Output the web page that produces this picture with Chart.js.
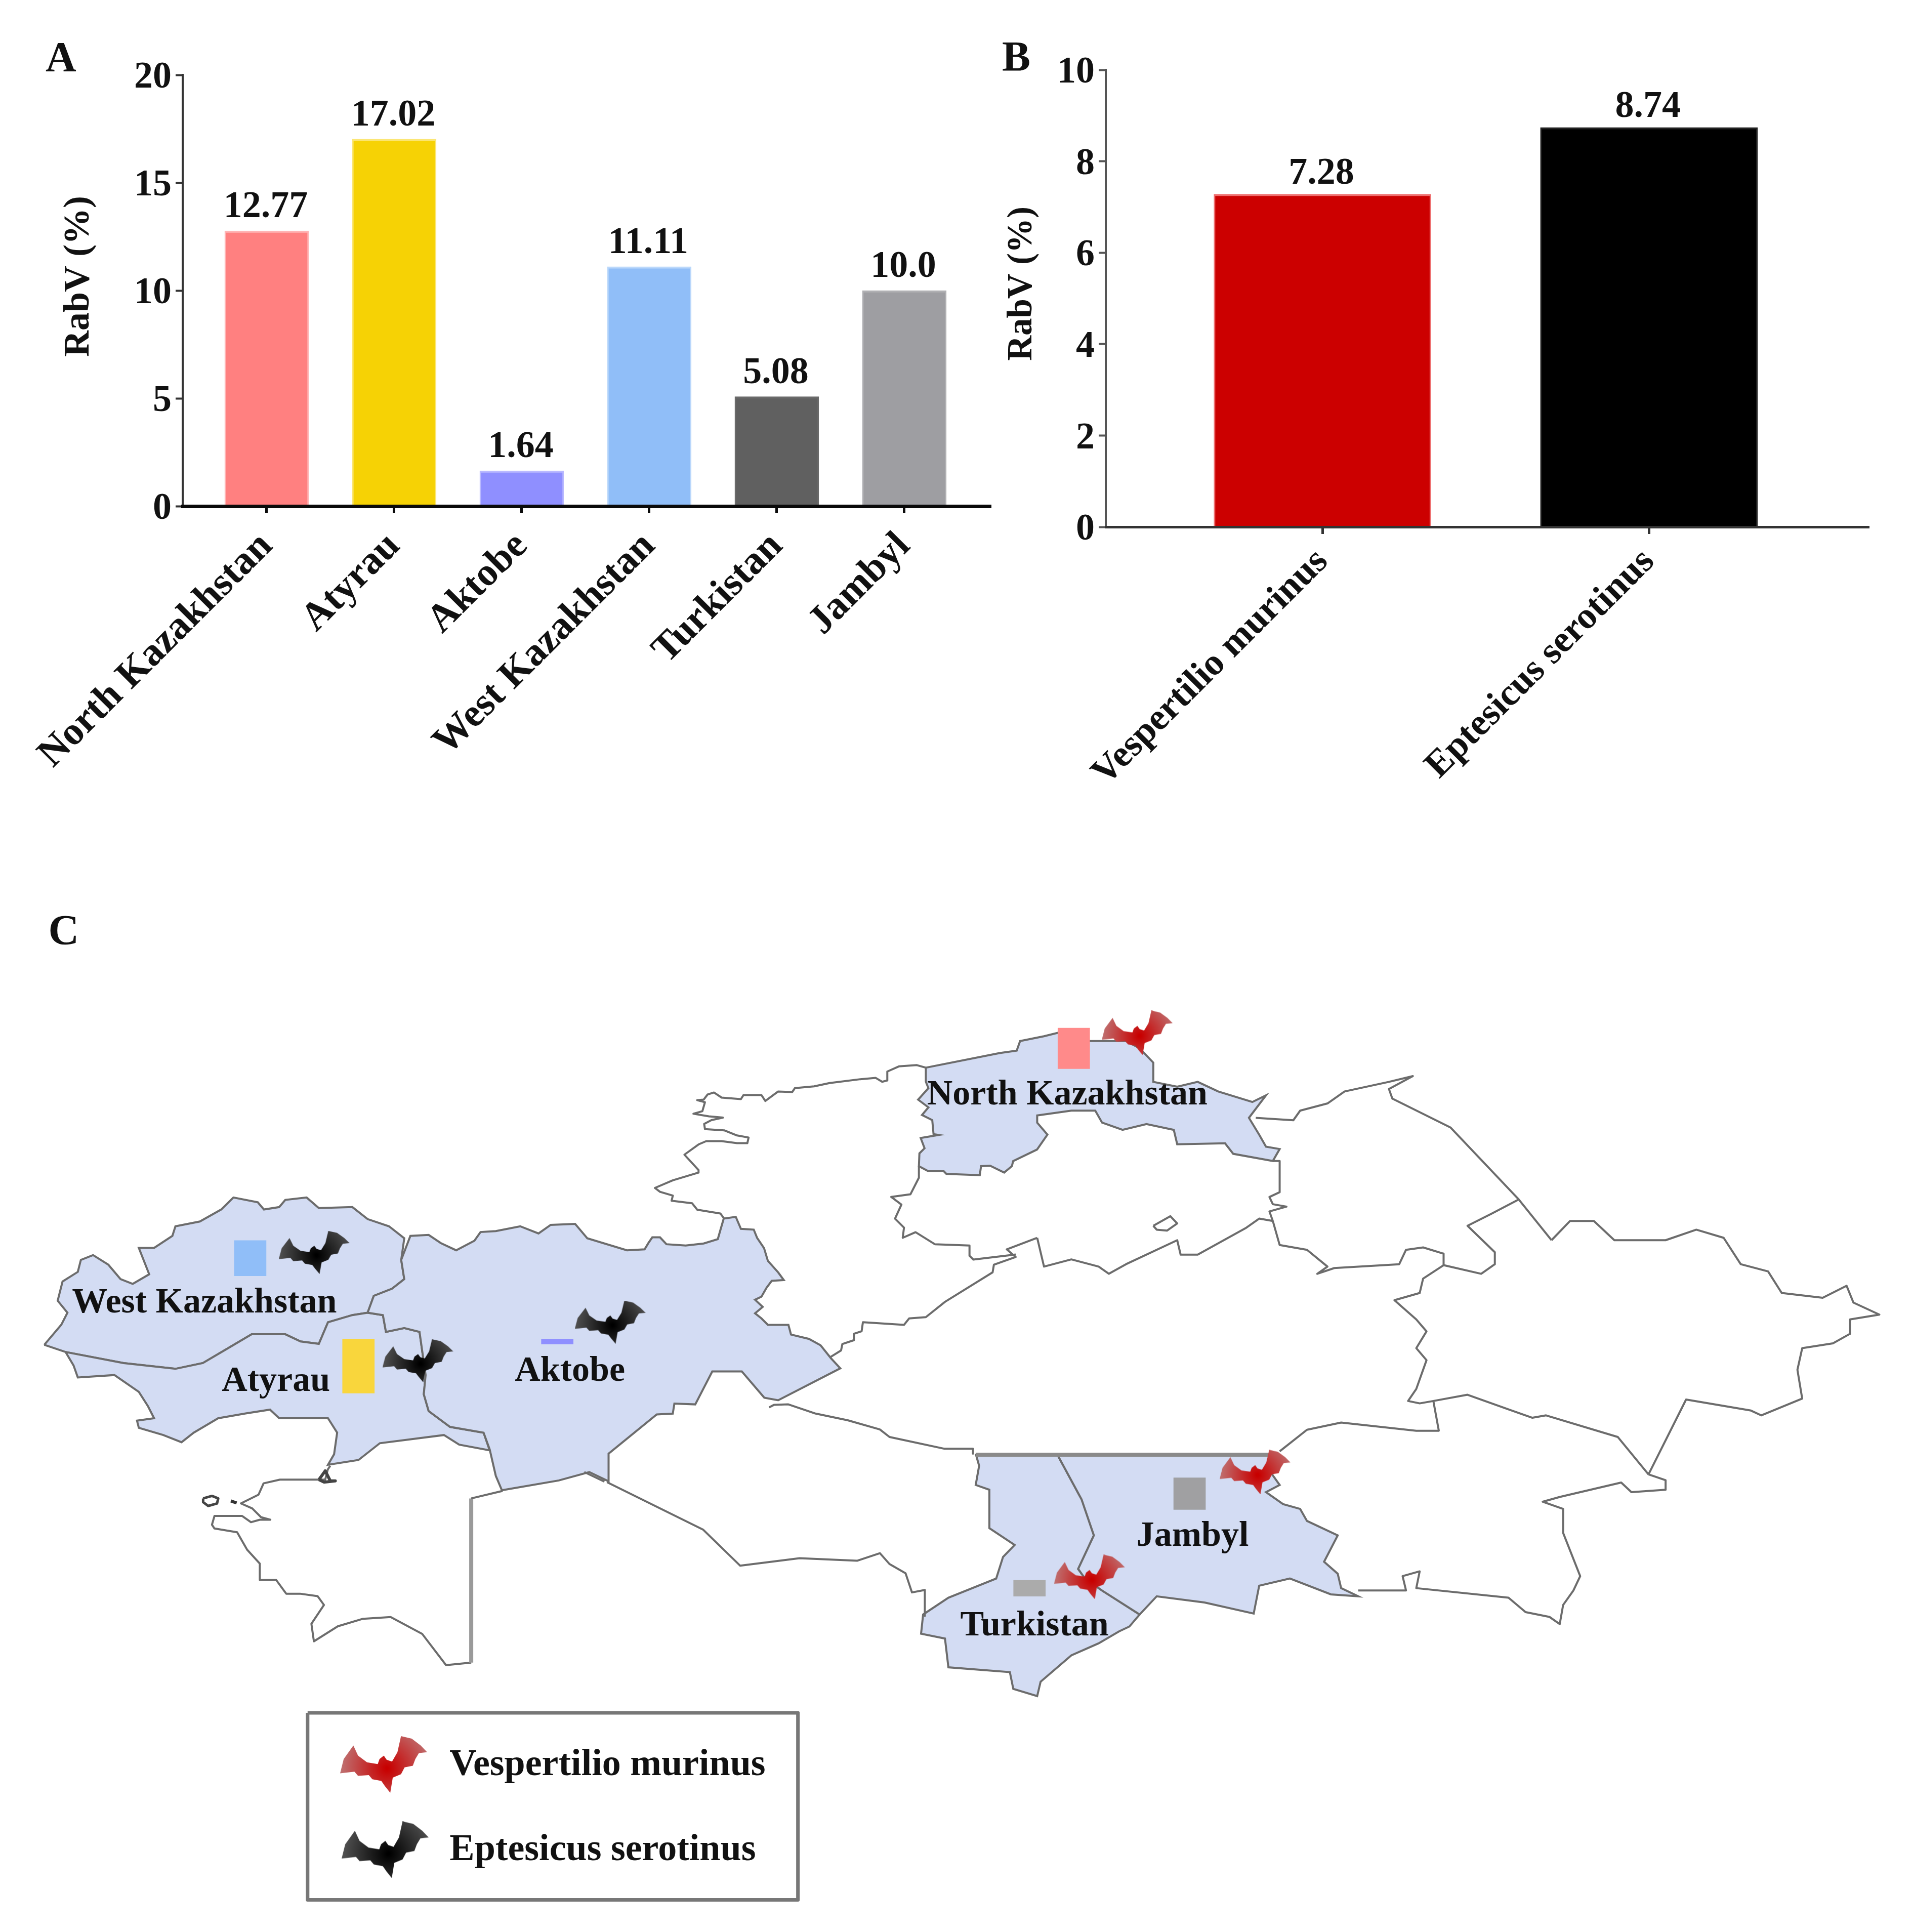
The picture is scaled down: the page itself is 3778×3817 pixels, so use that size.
<!DOCTYPE html>
<html><head><meta charset="utf-8">
<style>html,body{margin:0;padding:0;background:#fff}body{position:relative;width:3778px;height:3817px;overflow:hidden}canvas{position:absolute}</style>
<script src="https://cdn.jsdelivr.net/npm/chart.js@4"></script>
</head><body>
<canvas id="a" width="1960" height="1640" style="left:0;top:0"></canvas>
<canvas id="b" width="1818" height="1640" style="left:1960px;top:0"></canvas>
<canvas id="c" width="3778" height="2167" style="left:0;top:1650px"></canvas>
<script>
// ---------- chart data ----------
const regions=["North Kazakhstan","Atyrau","Aktobe","West Kazakhstan","Turkistan","Jambyl"];
const regionValues=[12.77,17.02,1.64,11.11,5.08,10.0];
const regionLabels=["12.77","17.02","1.64","11.11","5.08","10.0"];
const regionColors=["#FF8080","#F6D205","#8F8FFF","#90BEF8","#606060","#9E9EA2"];
const regionEdges=["#FFB4B4","#FBE675","#B9B9FF","#BBD8FB","#6A6A6A","#B0B0B3"];
const species=["Vespertilio murinus","Eptesicus serotinus"];
const speciesValues=[7.28,8.74];
const speciesLabels=["7.28","8.74"];
const speciesColors=["#CC0000","#000000"];
const speciesEdges=["#EE7070","#222222"];

// ---------- map outlines, traced in the units of five reading frames ----------
const westK_L=[[70,947],[98,905],[108,880],[92,855],[100,815],[125,795],[130,770],[150,760],[175,780],[195,810],[215,820],[242,800],[225,745],[250,745],[280,720],[285,700],[325,690],[360,665],[380,640],[420,650],[430,665],[455,660],[465,645],[500,640],[520,662],[575,660],[600,685],[635,700],[660,725],[655,770],[660,810],[640,830],[610,845],[600,880],[575,885],[535,900],[520,945],[490,940],[465,925],[410,925],[370,955],[330,985],[285,997],[200,985],[105,962]];
const atyrau_L=[[105,962],[118,990],[125,1015],[185,1010],[225,1045],[240,1075],[250,1100],[222,1105],[225,1120],[265,1135],[295,1150],[315,1130],[355,1100],[400,1090],[440,1082],[455,1100],[505,1100],[535,1100],[550,1130],[545,1175],[535,1197],[585,1187],[620,1152],[725,1135],[750,1155],[800,1167],[790,1130],[735,1118],[700,1085],[692,1050],[695,1010],[685,920],[660,912],[630,920],[625,885],[600,880],[575,885],[535,900],[520,945],[490,940],[465,925],[410,925],[370,955],[330,985],[285,997],[200,985]];
const aktobeNorth_L=[[600,880],[610,845],[640,830],[660,810],[655,770],[670,720],[700,718],[720,735],[745,750],[775,730],[785,712],[810,710],[850,700],[880,715],[900,697],[940,695],[960,725],[1025,750]];
const aktobeEast_N=[[40,815],[55,790],[70,768],[100,768],[125,795],[200,800],[270,792],[325,775],[335,740],[348,695],[395,688],[415,735],[465,738],[478,770],[505,810],[520,860],[560,905],[582,935],[535,938],[515,965],[495,1000],[470,1012],[500,1040],[470,1065],[495,1085],[520,1110],[600,1110],[610,1148],[680,1165],[725,1190],[765,1240],[802,1280],[560,1405]];
const aktobeSouth_K=[[640,185],[570,28],[478,28],[425,225],[360,220],[355,280],[305,285],[155,520],[155,685],[95,630],[0,680]];
const aktobeWest_L=[[820,1250],[810,1220],[800,1165],[790,1130],[735,1118],[700,1085],[692,1050],[695,1010],[685,920],[660,912],[630,920],[625,885]];
const northK_N=[[1135,105],[1135,160],[1145,185],[1105,230],[1145,260],[1120,290],[1160,310],[1165,365],[1185,368],[1115,380],[1130,420],[1110,440],[1108,490],[1145,510],[1205,510],[1215,520],[1345,525],[1350,490],[1385,488],[1440,515],[1470,490],[1475,470],[1568,425]];
const northK_R=[[310,300],[295,275],[295,260],[345,250],[380,250],[390,275],[420,290],[455,278],[495,290],[500,320],[570,318],[582,340],[640,355],[650,330],[630,325],[620,300],[605,265],[630,218],[610,232],[560,210],[530,190],[500,200],[465,190],[465,150],[445,120],[425,105],[372,105],[325,88],[305,95],[270,105],[265,125],[240,130]];
const turkistan_R=[[205,965],[325,968],[360,1060],[378,1135],[355,1205],[365,1225],[390,1250],[445,1300],[430,1325],[415,1335],[385,1360],[345,1385],[300,1440],[295,1470],[260,1455],[255,1420],[165,1410],[160,1350],[125,1340],[128,1300],[165,1265],[235,1225],[245,1180],[262,1155],[225,1120],[225,1040],[205,1030],[210,990]];
const jambyl_R=[[325,968],[640,965],[635,1000],[650,1030],[630,1045],[655,1070],[680,1080],[690,1105],[735,1135],[715,1190],[735,1215],[740,1245],[765,1262],[725,1258],[665,1225],[620,1240],[612,1298],[540,1275],[470,1262],[445,1300],[390,1250],[365,1225],[355,1205],[378,1135],[360,1060]];
const mangystau_M=[[600,95],[590,110],[580,150],[400,150],[335,165],[315,210],[245,245],[290,265],[325,300],[362,310],[320,310],[285,320],[250,295],[140,295],[130,330],[140,345],[230,360],[270,430],[320,485],[320,550],[385,550],[425,605],[480,605],[550,615],[575,650],[525,725],[535,795],[630,735],[730,705],[840,698],[965,765],[1060,890],[1160,880]];
const mangystauEast_M=[[1160,880],[1160,225]];
const mangystauTop_M=[[1160,225],[1285,195]];
const caspianIsle_M=[[95,225],[130,215],[155,225],[150,245],[115,255],[95,240],[95,225]];
const caspianRock_M=[[205,235],[228,243]];
const caspianKnot_M=[[555,150],[580,115],[600,155],[620,155],[575,160],[555,150]];
const kostanayNorth_N=[[1135,105],[1100,95],[1030,100],[985,120],[985,155],[965,160],[940,145],[880,150],[760,165],[700,178],[625,185],[615,200],[560,198],[510,235],[495,212],[425,212],[415,228],[340,222],[310,202],[285,210],[270,230],[245,232],[275,240],[265,275],[230,285],[290,295],[345,300],[300,310],[272,325],[275,345],[350,350],[400,370],[445,378],[440,400],[400,400],[340,392],[280,392],[250,405],[195,445],[250,505],[250,515],[150,545],[80,575],[100,590],[150,605],[145,625],[225,635],[245,660],[335,675],[350,695]];
const kostanaySouth_N=[[765,1235],[805,1210],[810,1185],[855,1170],[855,1145],[885,1135],[890,1100],[1050,1110],[1070,1085],[1135,1080],[1210,1020],[1395,905],[1400,875],[1485,845],[1450,815],[1568,770]];
const akmolaWest_N=[[1108,490],[1108,535],[1075,600],[1000,610],[1040,640],[1015,695],[1050,730],[1045,770],[1095,748],[1170,795],[1305,800],[1305,840],[1320,855],[1485,835]];
const akmolaSouth_R=[[295,515],[305,575],[345,560],[385,575],[400,590],[425,570],[500,520],[505,550],[530,550],[600,495],[620,475],[640,480]];
const akmolaEast_R=[[640,355],[650,355],[650,420],[635,430],[640,445],[660,450],[635,460],[640,480]];
const akmolaLake_R=[[465,490],[490,470],[500,485],[485,500],[470,498],[465,490]];
const pavlodarNorth_R=[[615,265],[670,270],[680,250],[720,235],[745,210],[810,190],[845,178],[810,205],[815,225],[900,285],[1000,435],[1048,520]];
const pavlodarSouth_R=[[1000,435],[960,465],[925,490],[965,545],[965,570],[945,590],[890,572]];
const karagandaNorth_R=[[640,480],[650,530],[690,540],[720,575],[705,590],[730,578],[825,570],[835,540],[860,535],[890,548],[890,572]];
const eastK_R=[[1048,520],[1075,480],[1110,480],[1140,520],[1215,520],[1260,498],[1300,515],[1325,570],[1365,585],[1385,630],[1445,640],[1480,615],[1490,650],[1528,675],[1485,685],[1485,715],[1460,735],[1415,745],[1408,790],[1415,850],[1355,885],[1340,875],[1245,852],[1190,1008]];
const karagandaEast_R=[[890,572],[860,600],[855,630],[818,645],[850,685],[865,710],[850,745],[865,770],[850,830],[838,855],[855,860],[875,855],[925,842],[990,875],[1020,890],[1040,885],[1145,930],[1190,1008]];
const almatyNorth_R=[[875,855],[883,917],[850,917],[740,900],[690,915],[650,960]];
const almatySouth_R=[[765,1250],[835,1250],[830,1220],[855,1210],[850,1245],[985,1265],[1010,1295],[1045,1305],[1060,1320],[1065,1280],[1080,1250],[1090,1220],[1065,1130],[1065,1080],[1035,1065],[1060,1055],[1150,1025],[1165,1045],[1215,1040],[1215,1020],[1190,1008]];
const kyzylordaNorth_K=[[655,243],[670,228],[715,225],[800,280],[900,320],[1000,375],[1030,420],[1200,490],[1290,490],[1290,520]];
const kyzylordaSouth_K=[[150,690],[450,975],[565,1190],[750,1145],[930,1160],[1000,1115],[1030,1180],[1080,1235],[1100,1350],[1140,1335],[1140,1490]];
const kyzylordaTip_L=[[955,1212],[988,1232]];
const aktobeTop_R=[[205,967],[640,967]];

// ---------- map annotations ----------
const mapBarX=[2091,670,1065,455,2003,2321];
const mapBarBase=[2106,2753,2655,2519,3158,2985];
const mapBarColors=["#FF8A8A","#F9D63C","#8F8FFF","#90BEF8","#ABABAB","#A0A0A2"];
const mapLabelX=[2110,538,1122,396,2045,2359];
const mapLabelY=[2177,2748,2728,2592,3236,3057];
const vespertilioSites=[[2249,2034],[2483,2910],[2154,3119]];
const eptesicusSites=[[614,2472],[820,2688],[1202,2611]];
const legendBatsRed=[[752,3493]];
const legendBatsBlack=[[755,3663]];
const legendBox=[[601,3390],[1575,3390],[1575,3763],[601,3763],[601,3390]];
const legendTextX=[883,883];
const legendTextY=[3514,3684];
const batOutline=[[212,450],[225,510],[250,550],[280,560],[285,530],[297,510],[305,535],[320,545],[335,490],[345,395],[375,410],[400,450],[418,490],[395,495],[385,530],[378,570],[355,580],[345,620],[322,640],[315,730],[300,690],[290,660],[265,650],[255,625],[225,630],[215,605],[175,615],[185,530]];

const SERIF='"Liberation Serif"';
const L=p=>p.map(([x,y])=>({x:x/.825-7,y:1750+y/1.045}));
const R=p=>p.map(([x,y])=>({x:1650+x/.737,y:1950+y/1.045}));
const M=p=>p.map(([x,y])=>({x:346+x/2,y:2850+y/2}));
const K=p=>p.map(([x,y])=>({x:1100+x/1.568,y:2700+y/3}));
const N=p=>p.map(([x,y])=>({x:1250+x/1.96,y:2050+y/1.96}));

function barChart(id,W,H,cfg){
  const axisTweak={id:'axisTweak',afterLayout(ch){
    const s=ch.scales.y;
    const drawTitle=s.drawTitle.bind(s);
    s.drawTitle=()=>{const b=s.bottom;s.bottom-=cfg.titleShift;drawTitle();s.bottom=b;};
    const items=s._computeLabelItems.bind(s);
    s._computeLabelItems=a=>{const it=items(a);it.forEach(i=>{i.options.translation[1]+=6;});return it;};
  }};
  const valueText={id:'valueText',afterDatasetsDraw(ch){
    const c=ch.ctx,m=ch.getDatasetMeta(0);c.save();
    c.font='bold '+cfg.valueFont+'px '+SERIF;c.fillStyle='#111';c.textAlign='center';c.textBaseline='alphabetic';
    cfg.texts.forEach((t,i)=>c.fillText(t,m.data[i].x-2,m.data[i].y-cfg.valueGap));
    c.font='bold 84px '+SERIF;c.textAlign='left';c.fillStyle='#111';
    c.fillText(cfg.panel,cfg.panelX,cfg.panelY);c.restore();}};
  new Chart(document.getElementById(id),{
    type:'bar',
    data:{datasets:[{data:cfg.values.map((v,i)=>({x:i,y:v})),backgroundColor:cfg.colors,borderColor:cfg.edges,borderWidth:{top:4,left:3,right:3,bottom:0},borderSkipped:false,barThickness:cfg.barW}]},
    options:{responsive:false,animation:false,devicePixelRatio:1,
      layout:{padding:{top:cfg.top,right:W-cfg.right,left:0,bottom:0}},
      plugins:{legend:{display:false},tooltip:{enabled:false}},
      scales:{
        x:{type:'linear',offset:false,min:cfg.xMin,max:cfg.xMax,
          afterBuildTicks:s=>{s.ticks=cfg.cats.map((_,i)=>({value:i}));},
          afterFit:s=>{s.height=H-cfg.bottom;},
          border:{color:cfg.xLine,width:cfg.xLineW,z:1},
          grid:{offset:false,drawOnChartArea:false,drawTicks:true,tickLength:14,tickWidth:5,tickColor:cfg.xLine},
          ticks:{autoSkip:false,minRotation:45,maxRotation:45,padding:cfg.xPad,color:'#111',font:{family:SERIF,size:cfg.catFont,weight:'bold'},callback:v=>cfg.cats[v]}},
        y:{min:0,max:cfg.yMax,
          afterFit:s=>{s.width=cfg.left;},
          border:{color:cfg.yLine,width:4},
          grid:{drawOnChartArea:false,drawTicks:true,tickLength:14,tickWidth:4,tickColor:cfg.yLine},
          ticks:{stepSize:cfg.step,padding:8,color:'#111',font:{family:SERIF,size:74,weight:'bold'}},
          title:{display:true,text:'RabV (%)',color:'#111',padding:{top:cfg.titlePad,bottom:0},font:{family:SERIF,size:cfg.titleFont,weight:'bold'}}}
      }},
    plugins:[axisTweak,valueText]});
}
barChart('a',1960,1640,{cats:regions,values:regionValues,texts:regionLabels,colors:regionColors,edges:regionEdges,barW:166,valueGap:27,
  xMin:-.6587,xMax:5.679,yMax:20,step:5,left:361,right:1958,top:148,bottom:1000,xLine:'#0a0a0a',xLineW:7,yLine:'#333',xPad:20,catFont:78,valueFont:74,titleFont:72,titlePad:113,titleShift:56,panel:'A',panelX:90,panelY:141});
barChart('b',1818,1640,{cats:species,values:speciesValues,texts:speciesLabels,colors:speciesColors,edges:speciesEdges,barW:429,valueGap:21,
  xMin:-.6636,xMax:1.674,yMax:10,step:2,left:225,right:1733,top:138,bottom:1041,xLine:'#333',xLineW:5,yLine:'#555',xPad:12,catFont:74,valueFont:74,titleFont:69,titlePad:19,titleShift:58,panel:'B',panelX:20,panelY:140});

function batImage(w,h,core,edge){
  const cv=document.createElement('canvas');cv.width=w;cv.height=h;const c=cv.getContext('2d');
  const px=x=>(x-175)/243*w,py=y=>(y-395)/335*h;
  const g=c.createRadialGradient(px(305),py(585),2,px(305),py(585),Math.max(w,h)*.72);
  g.addColorStop(0,core);g.addColorStop(1,edge);
  c.fillStyle=g;c.beginPath();batOutline.forEach(([x,y],i)=>i?c.lineTo(px(x),py(y)):c.moveTo(px(x),py(y)));c.closePath();c.fill();
  return cv;
}
const redBat=batImage(140,88,'#C80000','#BC9A9A'),blackBat=batImage(140,85,'#000000','#707070');
const redBatBig=batImage(172,112,'#C80000','#BC9A9A'),blackBatBig=batImage(172,112,'#000000','#707070');

const FILL='#D3DCF3',LINE='#6C6C6C';
const shape=(pts,color,edge,w)=>({data:[...pts,pts[0]],showLine:true,fill:'shape',backgroundColor:color,borderColor:edge||'transparent',borderWidth:w===undefined?4:w,pointRadius:0,tension:0});
const line=(pts,edge,w)=>({data:pts,showLine:true,fill:false,borderColor:edge||LINE,borderWidth:w||4,pointRadius:0,tension:0,borderJoinStyle:'round'});
const bats=(sites,img)=>({data:sites.map(([x,y])=>({x,y})),showLine:false,pointStyle:img,pointRadius:10,borderWidth:0});
const bar=i=>{const x=mapBarX[i],b=mapBarBase[i],t=b-regionValues[i]*6.4;return shape([{x,y:b},{x:x+64,y:b},{x:x+64,y:t},{x,y:t}],mapBarColors[i],'transparent',0);};

const ds=[
  shape(L(westK_L),FILL,LINE),
  shape(L(atyrau_L),FILL,LINE),
  shape([...L(aktobeNorth_L),...N(aktobeEast_N),...K(aktobeSouth_K),...L(aktobeWest_L)],FILL,LINE),
  shape([...N(northK_N),...R(northK_R)],FILL,LINE),
  shape(R(turkistan_R),FILL,LINE),
  shape(R(jambyl_R),FILL,LINE),
  line(M(mangystau_M)),line(M(mangystauEast_M),'#9A9A9A',8),line(M(mangystauTop_M)),line(M(caspianIsle_M),'#444',5),line(M(caspianRock_M),'#333',6),line(M(caspianKnot_M),'#444',6),
  line(N(kostanayNorth_N)),line(N(kostanaySouth_N)),line(N(akmolaWest_N)),line(R(akmolaSouth_R)),line(R(akmolaEast_R)),line(R(akmolaLake_R)),
  line(R(pavlodarNorth_R)),line(R(pavlodarSouth_R)),line(R(karagandaNorth_R)),line(R(eastK_R)),line(R(karagandaEast_R)),line(R(almatyNorth_R)),line(R(almatySouth_R)),
  line(K(kyzylordaNorth_K)),line(K(kyzylordaSouth_K)),line(L(kyzylordaTip_L)),line(R(aktobeTop_R),'#8A8A8A',8),
  ...regions.map((_,i)=>bar(i)),
  bats(vespertilioSites,redBat),bats(eptesicusSites,blackBat),bats(legendBatsRed,redBatBig),bats(legendBatsBlack,blackBatBig),
  line(legendBox.map(([x,y])=>({x,y})),'#777',7)
];
ds.forEach((d,i)=>{d.order=ds.length-i;});

const mapText={id:'mapText',afterDatasetsDraw(ch){
  const c=ch.ctx,X=ch.scales.x,Y=ch.scales.y;c.save();c.fillStyle='#111';c.textBaseline='alphabetic';
  c.font='bold 70px '+SERIF;c.textAlign='center';
  regions.forEach((n,i)=>c.fillText(n,X.getPixelForValue(mapLabelX[i]),Y.getPixelForValue(mapLabelY[i])));
  c.font='bold 74px '+SERIF;c.textAlign='left';
  species.forEach((n,i)=>c.fillText(n,X.getPixelForValue(legendTextX[i]),Y.getPixelForValue(legendTextY[i])));
  c.font='bold 84px '+SERIF;c.fillText('C',X.getPixelForValue(86),Y.getPixelForValue(1858));
  c.restore();}};

new Chart(document.getElementById('c'),{
  type:'scatter',data:{datasets:ds},
  options:{responsive:false,animation:false,devicePixelRatio:1,layout:{padding:0},
    plugins:{legend:{display:false},tooltip:{enabled:false}},
    scales:{x:{type:'linear',display:false,min:0,max:3778},y:{type:'linear',display:false,min:1650,max:3817,reverse:true}}},
  plugins:[mapText]});
</script>
</body></html>
